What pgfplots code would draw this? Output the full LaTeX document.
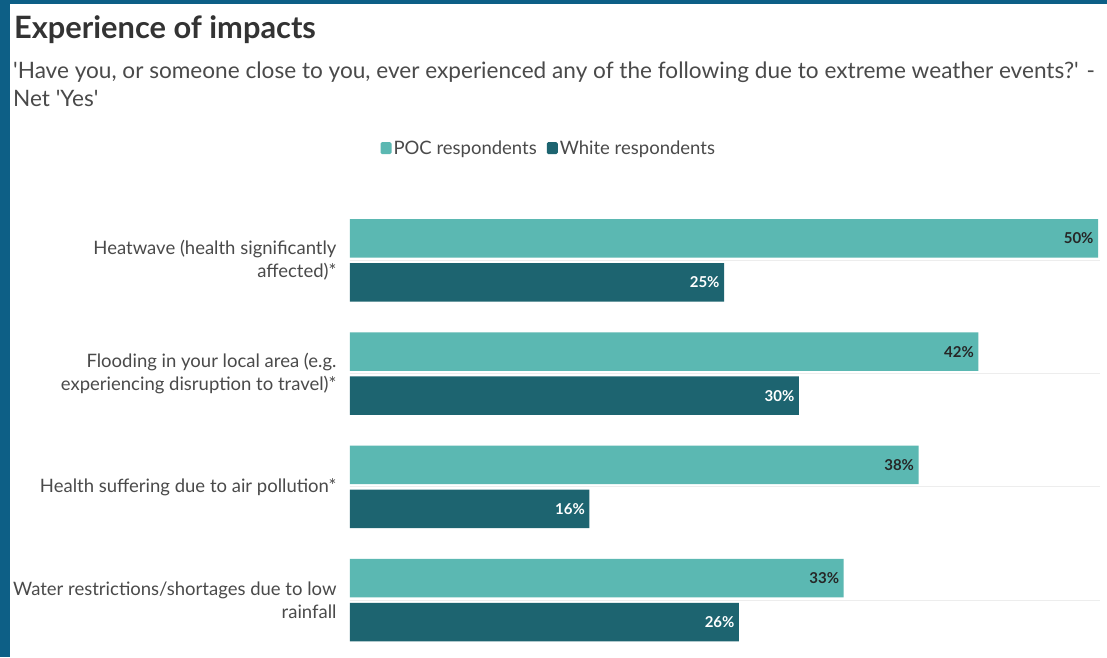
\documentclass[border=0pt]{standalone}
\usepackage{pgfplots}
\pgfplotsset{compat=1.18}
\usepackage{fontspec}
\setmainfont{Lato}
\definecolor{frameblue}{HTML}{0D5F86}
\definecolor{poc}{HTML}{5BB8B2}
\definecolor{white2}{HTML}{1D6470}
\definecolor{titlegray}{HTML}{333333}
\definecolor{subgray}{HTML}{4A4A4A}
\begin{document}
\begin{tikzpicture}[x=1pt,y=1pt]
\useasboundingbox (-350,-0.4) rectangle (757,656.6);
\begin{scope}[shift={(-350pt,-0.4pt)}]
\fill[frameblue] (0,0) rectangle (1107,657);
\fill[white] (10,0) rectangle (1107,653);
\node[anchor=base west,inner sep=0pt,font=\fontsize{30.8}{34}\selectfont\bfseries,text=titlegray] at (14,618) {Experience of impacts};
\node[anchor=base west,inner sep=0pt,font=\fontsize{22.6}{26}\selectfont,text=subgray] at (13,578) {\textquotesingle Have you, or someone close to you, ever experienced any of the following due to extreme weather events?\textquotesingle{} -};
\node[anchor=base west,inner sep=0pt,font=\fontsize{22.6}{26}\selectfont,text=subgray] at (13,550) {Net \textquotesingle Yes\textquotesingle};
\end{scope}
\begin{axis}[
  scale only axis, width=750pt, height=452.8pt,
  xmin=0, xmax=50.13, ymin=-0.5, ymax=3.5,
  axis lines*=left,
  axis line style={draw=none},
  major tick length=0pt,
  xtick=\empty,
  ytick={0,1,2,3},
  yticklabels={{Water restrictions/shortages due to low\\rainfall},
               {Health suffering due to air pollution*},
               {Flooding in your local area (e.g.\\experiencing disruption to travel)*},
               {Heatwave (health significantly\\affected)*}},
  yticklabel style={align=right, font=\fontsize{18.5}{23}\selectfont, text=subgray, xshift=-10pt},
  ymajorgrids, major grid style={draw=black!7, line width=0.8pt},
  xbar, bar width=38.5pt,
  legend columns=2,
  legend style={at={(0.265,1.123)}, anchor=center, draw=none, fill=none,
    font=\fontsize{18.5}{20}\selectfont, text=subgray,
    /tikz/every even column/.append style={column sep=8pt}},
  legend image code/.code={\fill[#1, rounded corners=1.5pt] (0pt,-6pt) rectangle (11pt,6pt);},
  point meta=x,
  nodes near coords={\pgfmathprintnumber[assume math mode=true]{\pgfplotspointmeta}\%},
]
\addplot[fill=poc, draw=none, bar shift=22pt,
  every node near coord/.append style={anchor=east, xshift=-1pt, font=\fontsize{15}{16}\selectfont\bfseries, text=black!85}]
  coordinates {(50,3) (42,2) (38,1) (33,0)};
\addlegendentry{POC respondents}
\addplot[fill=white2, draw=none, bar shift=-22pt,
  every node near coord/.append style={anchor=east, xshift=-1pt, font=\fontsize{15}{16}\selectfont\bfseries, text=white}]
  coordinates {(25,3) (30,2) (16,1) (26,0)};
\addlegendentry{White respondents}
\end{axis}
\end{tikzpicture}
\end{document}
